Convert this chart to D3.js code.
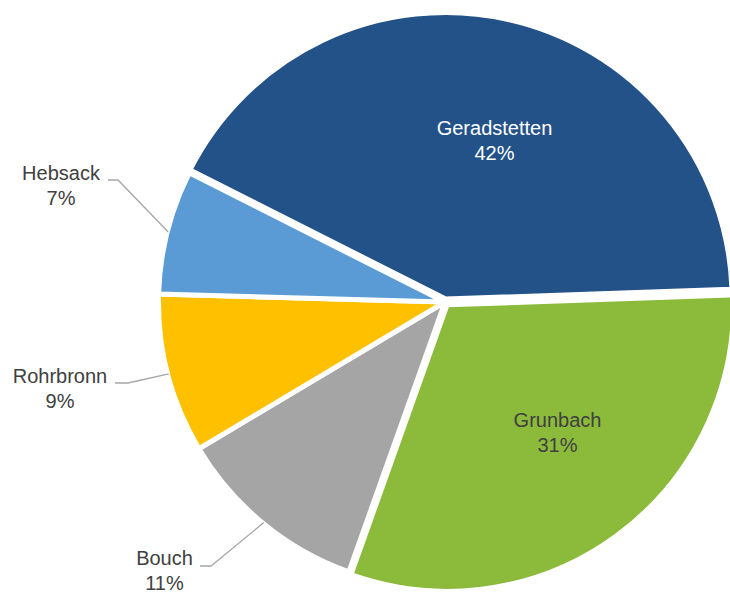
<!DOCTYPE html>
<html>
<head>
<meta charset="utf-8">
<script src="https://cdn.jsdelivr.net/npm/d3@7"></script>
<style>
  html, body { margin: 0; padding: 0; background: #ffffff; }
  svg { display: block; }
</style>
</head>
<body>
<svg id="chart" width="730" height="592"></svg>
<script>
// ---- data ----
const categories = ["Geradstetten", "Grunbach", "Bouch", "Rohrbronn", "Hebsack"];
const values = [42, 31, 11, 9, 7];
const percentLabels = ["42%", "31%", "11%", "9%", "7%"];
const colors = ["#235289", "#8CBA3B", "#A5A5A5", "#FFC000", "#5B9BD5"];

// ---- layout ----
const W = 730, H = 592;
const cx = 445, cy = 302;
const R = 286.5;
const startAngle = -63.2 * Math.PI / 180;
const explode = { "Geradstetten": 3, "Grunbach": 3.5 };
// label layout: text centre x, first baseline y, whether outside (with leader)
const labelLayout = {
  "Geradstetten": { x: 494.5, y: 135, fill: "#ffffff" },
  "Grunbach":     { x: 557.5, y: 427, fill: "#404040" },
  "Bouch":        { x: 164.5, y: 565, fill: "#404040", leader: { x0: 200, x1: 211, y: 566 } },
  "Rohrbronn":    { x: 60,    y: 383, fill: "#404040", leader: { x0: 115, x1: 128, y: 383 } },
  "Hebsack":      { x: 61,    y: 180, fill: "#404040", leader: { x0: 108, x1: 118, y: 180 } }
};

const data = categories.map((c, i) => ({ name: c, value: values[i], pct: percentLabels[i], color: colors[i] }));

const svg = d3.select("#chart");
const pie = d3.pie().sort(null).value(d => d.value)
  .startAngle(startAngle).endAngle(startAngle + 2 * Math.PI);
const arcs = pie(data);
const arc = d3.arc().innerRadius(0).outerRadius(R);

const g = svg.append("g").attr("transform", `translate(${cx},${cy})`);

g.selectAll("path.slice")
  .data(arcs)
  .join("path")
  .attr("class", "slice")
  .attr("d", arc)
  .attr("fill", d => d.data.color)
  .attr("stroke", "#ffffff")
  .attr("stroke-width", 5)
  .attr("stroke-linejoin", "miter")
  .attr("transform", d => {
    const e = explode[d.data.name] || 0;
    const a = (d.startAngle + d.endAngle) / 2;
    return `translate(${e * Math.sin(a)},${-e * Math.cos(a)})`;
  });

// leader lines
const leaderArcs = arcs.filter(d => labelLayout[d.data.name].leader);
svg.selectAll("polyline.leader")
  .data(leaderArcs)
  .join("polyline")
  .attr("class", "leader")
  .attr("fill", "none")
  .attr("stroke", "#A6A6A6")
  .attr("stroke-width", 1.3)
  .attr("points", d => {
    const L = labelLayout[d.data.name].leader;
    const a = (d.startAngle + d.endAngle) / 2;
    const px = cx + (R - 1) * Math.sin(a);
    const py = cy - (R - 1) * Math.cos(a);
    return `${L.x0},${L.y} ${L.x1},${L.y} ${px},${py}`;
  });

// labels
const labels = svg.selectAll("text.lbl")
  .data(arcs)
  .join("text")
  .attr("class", "lbl")
  .attr("text-anchor", "middle")
  .attr("font-family", "'Liberation Sans', Arial, sans-serif")
  .attr("font-size", 20)
  .attr("fill", d => labelLayout[d.data.name].fill);

labels.append("tspan")
  .attr("x", d => labelLayout[d.data.name].x)
  .attr("y", d => labelLayout[d.data.name].y)
  .text(d => d.data.name);
labels.append("tspan")
  .attr("x", d => labelLayout[d.data.name].x)
  .attr("y", d => labelLayout[d.data.name].y + 24.5)
  .text(d => d.data.pct);
</script>
</body>
</html>
